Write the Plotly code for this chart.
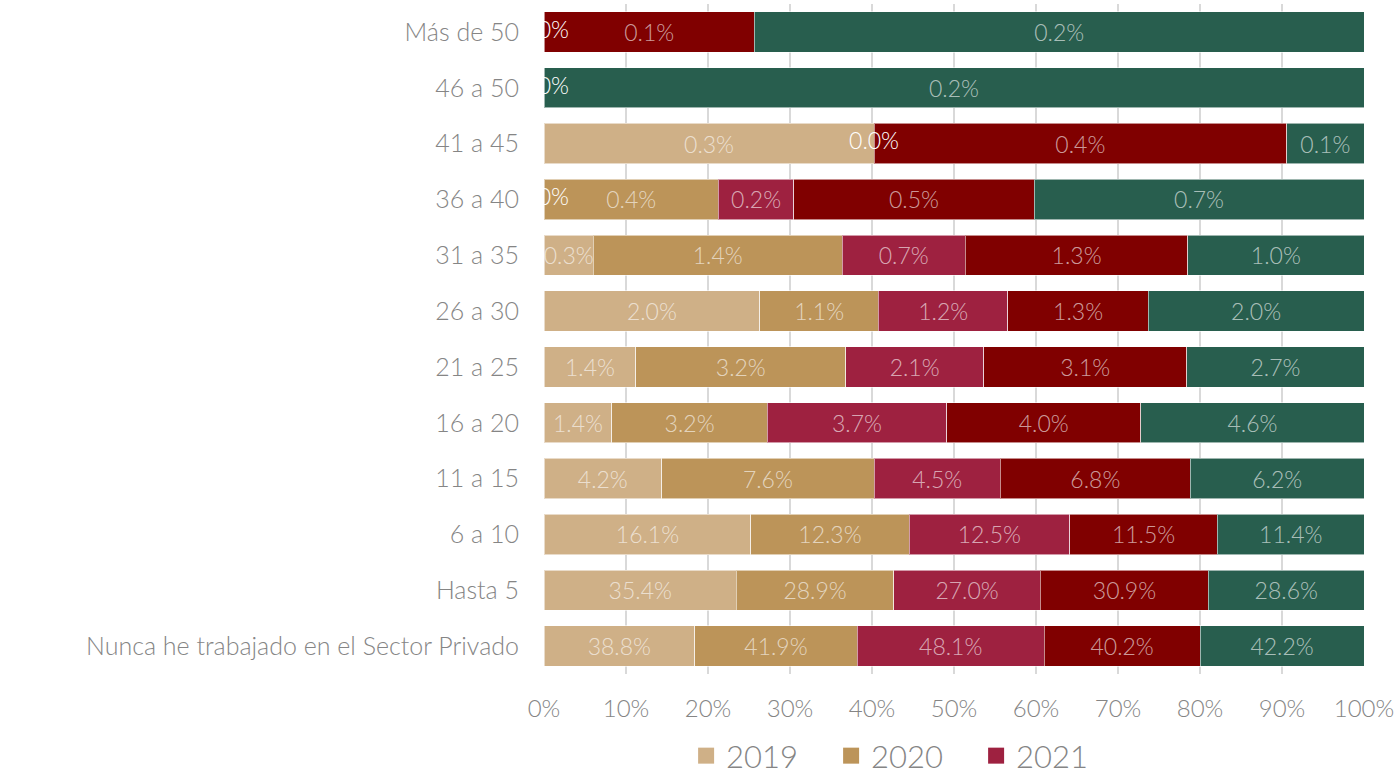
import plotly.graph_objects as go

# Años de experiencia en el sector privado, distribución por cohorte (%)
categories = [
    "Más de 50", "46 a 50", "41 a 45", "36 a 40", "31 a 35", "26 a 30",
    "21 a 25", "16 a 20", "11 a 15", "6 a 10", "Hasta 5",
    "Nunca he trabajado en el Sector Privado",
]
years = ["2019", "2020", "2021", "2022", "2023"]
v2019 = [0.0, 0.0, 0.32, 0.0, 0.28, 2.0, 1.4, 1.4, 4.2, 16.1, 35.4, 38.8]
v2020 = [None, None, None, 0.37, 1.41, 1.1, 3.2, 3.2, 7.6, 12.3, 28.9, 41.9]
v2021 = [None, None, 0.0, 0.16, 0.70, 1.2, 2.1, 3.7, 4.5, 12.5, 27.0, 48.1]
v2022 = [0.069, None, 0.40, 0.51, 1.26, 1.3, 3.1, 4.0, 6.8, 11.5, 30.9, 40.2]
v2023 = [0.2, 0.2, 0.075, 0.70, 1.00, 2.0, 2.7, 4.6, 6.2, 11.4, 28.6, 42.2]
x_ticks = list(range(0, 101, 10))

series = [v2019, v2020, v2021, v2022, v2023]
colors = ["#CFB087", "#BC9459", "#9E2140", "#800000", "#285E4E"]
in_legend = [True, True, True, False, False]

FONT = "Lato, 'Open Sans', sans-serif"
GRAY = "#858585"

fig = go.Figure()

for name, vals, col, show in zip(years, series, colors, in_legend):
    labels = ["" if (v is None or v == 0) else f"{v:.1f}%" for v in vals]
    fig.add_trace(go.Bar(
        y=categories, x=vals, name=name, orientation="h",
        marker=dict(color=col, line=dict(color="rgba(255,255,255,0.55)", width=1)),
        text=labels, textposition="inside", insidetextanchor="middle",
        textangle=0, constraintext="none",
        textfont=dict(family=FONT, size=23, color="rgba(255,255,255,0.62)", weight=300),
        showlegend=False,
    ))
    # legend swatch
    fig.add_trace(go.Scatter(
        x=[None], y=[None], mode="markers", name=name,
        marker=dict(symbol="square", size=18, color=col),
        showlegend=show,
    ))

# labels for zero-valued segments, placed at their stacked (normalized) position
zx, zy = [], []
for i, cat in enumerate(categories):
    total = sum(s[i] or 0 for s in series)
    acc = 0.0
    for s in series:
        v = s[i]
        if v is None:
            continue
        if v == 0:
            zx.append(acc / total * 100)
            zy.append(cat)
        acc += v
fig.add_trace(go.Scatter(
    x=zx, y=zy, mode="text", text=["0.0%"] * len(zx),
    textposition="middle center", cliponaxis=True,
    textfont=dict(family=FONT, size=23, color="#FFFFFF", weight=300),
    showlegend=False, hoverinfo="skip",
))

fig.update_layout(
    width=1396, height=775,
    barmode="stack", barnorm="percent", bargap=0.28,
    plot_bgcolor="white", paper_bgcolor="white",
    margin=dict(l=544, r=32, t=4, b=101, autoexpand=False),
    font=dict(family=FONT, color=GRAY, weight=300),
    legend=dict(
        orientation="h", traceorder="normal",
        x=0.1733, xanchor="left",
        yref="container", y=19 / 775, yanchor="middle",
        font=dict(family=FONT, size=31, color=GRAY, weight=300),
        itemwidth=30, entrywidth=100, entrywidthmode="pixels",
    ),
)
fig.update_xaxes(
    range=[0, 100], tickvals=x_ticks, ticktext=[f"{t}%" for t in x_ticks],
    showgrid=True, gridcolor="#D9D9D9", gridwidth=2, zeroline=False,
    tickfont=dict(family=FONT, size=24, color=GRAY, weight=300),
    ticks="", ticklabelstandoff=18, fixedrange=True,
)
fig.update_yaxes(
    categoryorder="array", categoryarray=categories,
    range=[len(categories) - 0.5, -0.5],
    tickfont=dict(family=FONT, size=25, color=GRAY, weight=300),
    ticks="", ticklabelstandoff=24,
    showgrid=False,
)

fig.write_html("out.html")
